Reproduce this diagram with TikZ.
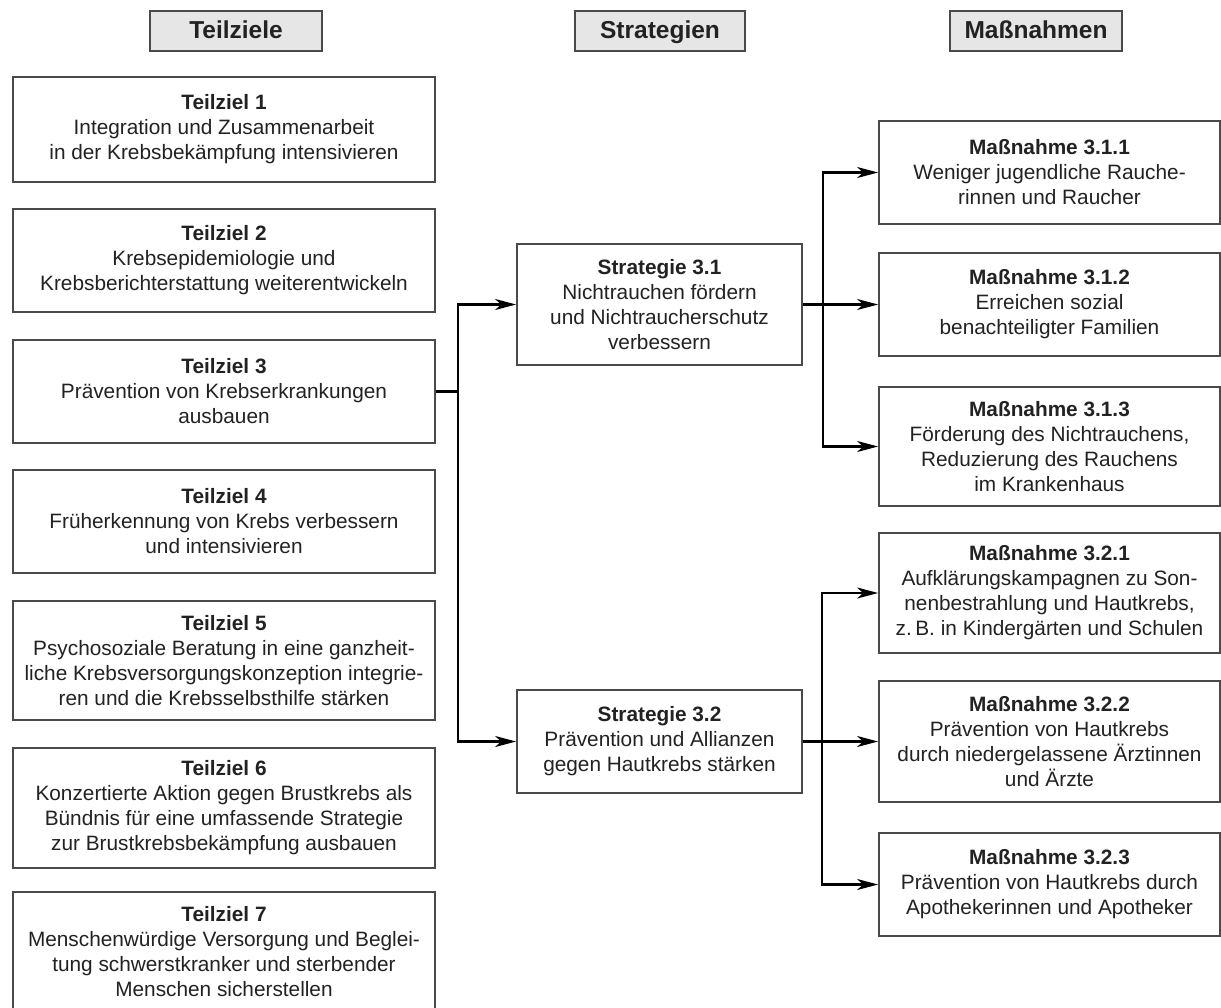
\documentclass[tikz,border=0pt]{standalone}
\usepackage{fontspec}
\setmainfont{Liberation Sans}
\usetikzlibrary{arrows.meta}
\definecolor{boxc}{HTML}{4A4A4A}
\definecolor{txtc}{HTML}{222222}
\definecolor{hdrfill}{HTML}{E6E6E6}
\begin{document}
\begin{tikzpicture}[x=1pt,y=-1pt,
  box/.style={draw=boxc, line width=1.8pt, fill=white, align=center, inner sep=0pt,
    text=txtc, font=\fontsize{20.8pt}{25pt}\selectfont},
  hdr/.style={draw=boxc, line width=2.2pt, fill=hdrfill, inner sep=0pt, text=txtc,
    minimum height=40pt, text height=17.6pt, text depth=2.4pt,
    font=\fontsize{24.5pt}{28pt}\selectfont\bfseries},
  conn/.style={line width=2.2pt, black, line join=miter},
  arr/.style={conn, -{Stealth[length=21pt,width=11pt,inset=6pt]}}
]
\fill[white] (0,0) rectangle (1221,1007);
\useasboundingbox (0,0) rectangle (1221,1007);
\clip (0,0) rectangle (1221,1007);

% headers
\node[hdr, minimum width=172pt] (h1) at (236,31) {Teilziele};
\node[hdr, minimum width=170pt] (h2) at (660,31) {Strategien};
\node[hdr, minimum width=172pt] (h3) at (1036,31) {Maßnahmen};

% Teilziele
\node[box, minimum width=422pt, minimum height=105pt] (t1) at (224,129.5)
  {\textbf{Teilziel 1}\\Integration und Zusammenarbeit\\in der Krebsbekämpfung intensivieren};
\node[box, minimum width=422pt, minimum height=103pt] (t2) at (224,260.5)
  {\textbf{Teilziel 2}\\Krebsepidemiologie und\\Krebsberichterstattung weiterentwickeln};
\node[box, minimum width=422pt, minimum height=103pt] (t3) at (224,391.5)
  {\textbf{Teilziel 3}\\Prävention von Krebserkrankungen\\ausbauen};
\node[box, minimum width=422pt, minimum height=103pt] (t4) at (224,521.5)
  {\textbf{Teilziel 4}\\Früherkennung von Krebs verbessern\\und intensivieren};
\node[box, minimum width=422pt, minimum height=119pt] (t5) at (224,660.5)
  {\textbf{Teilziel 5}\\Psychosoziale Beratung in eine ganzheit-\\liche Krebsversorgungskonzeption integrie-\\ren und die Krebsselbsthilfe stärken};
\node[box, minimum width=422pt, minimum height=120pt] (t6) at (224,808)
  {\textbf{Teilziel 6}\\Konzertierte Aktion gegen Brustkrebs als\\Bündnis für eine umfassende Strategie\\zur Brustkrebsbekämpfung ausbauen};
\node[box, minimum width=422pt, minimum height=120pt] (t7) at (224,952)
  {\textbf{Teilziel 7}\\Menschenwürdige Versorgung und Beglei-\\tung schwerstkranker und sterbender\\Menschen sicherstellen};

% Strategien
\node[box, minimum width=285pt, minimum height=121pt] (s31) at (659.5,304.5)
  {\textbf{Strategie 3.1}\\Nichtrauchen fördern\\und Nichtraucherschutz\\verbessern};
\node[box, minimum width=285pt, minimum height=103pt] (s32) at (659.5,741.5)
  {\textbf{Strategie 3.2}\\Prävention und Allianzen\\gegen Hautkrebs stärken};

% Massnahmen
\node[box, minimum width=341pt, minimum height=103pt] (m311) at (1049.5,172.5)
  {\textbf{Maßnahme 3.1.1}\\Weniger jugendliche Rauche-\\rinnen und Raucher};
\node[box, minimum width=341pt, minimum height=103pt] (m312) at (1049.5,304.5)
  {\textbf{Maßnahme 3.1.2}\\Erreichen sozial\\benachteiligter Familien};
\node[box, minimum width=341pt, minimum height=119pt] (m313) at (1049.5,446.5)
  {\textbf{Maßnahme 3.1.3}\\Förderung des Nichtrauchens,\\Reduzierung des Rauchens\\im Krankenhaus};
\node[box, minimum width=341pt, minimum height=120pt] (m321) at (1049.5,593)
  {\textbf{Maßnahme 3.2.1}\\Aufklärungskampagnen zu Son-\\nenbestrahlung und Hautkrebs,\\z.\,B. in Kindergärten und Schulen};
\node[box, minimum width=341pt, minimum height=121pt] (m322) at (1049.5,741.5)
  {\textbf{Maßnahme 3.2.2}\\Prävention von Hautkrebs\\durch niedergelassene Ärztinnen\\und Ärzte};
\node[box, minimum width=341pt, minimum height=103pt] (m323) at (1049.5,884.5)
  {\textbf{Maßnahme 3.2.3}\\Prävention von Hautkrebs durch\\Apothekerinnen und Apotheker};

% junction columns
\coordinate (j1) at (458,0);
\coordinate (j2) at (823,0);
\coordinate (j3) at (822,0);

% connectors
\draw[arr] (t3.east) -| (j1 |- s31.west) -- (s31.west);
\draw[arr] (t3.east) -| (j1 |- s32.west) -- (s32.west);

\draw[arr] (s31.east) -| (j2 |- m311.west) -- (m311.west);
\draw[arr] (s31.east) -- (m312.west);
\draw[arr] (s31.east) -| (j2 |- m313.west) -- (m313.west);

\draw[arr] (s32.east) -| (j3 |- m321.west) -- (m321.west);
\draw[arr] (s32.east) -- (m322.west);
\draw[arr] (s32.east) -| (j3 |- m323.west) -- (m323.west);
\end{tikzpicture}
\end{document}
